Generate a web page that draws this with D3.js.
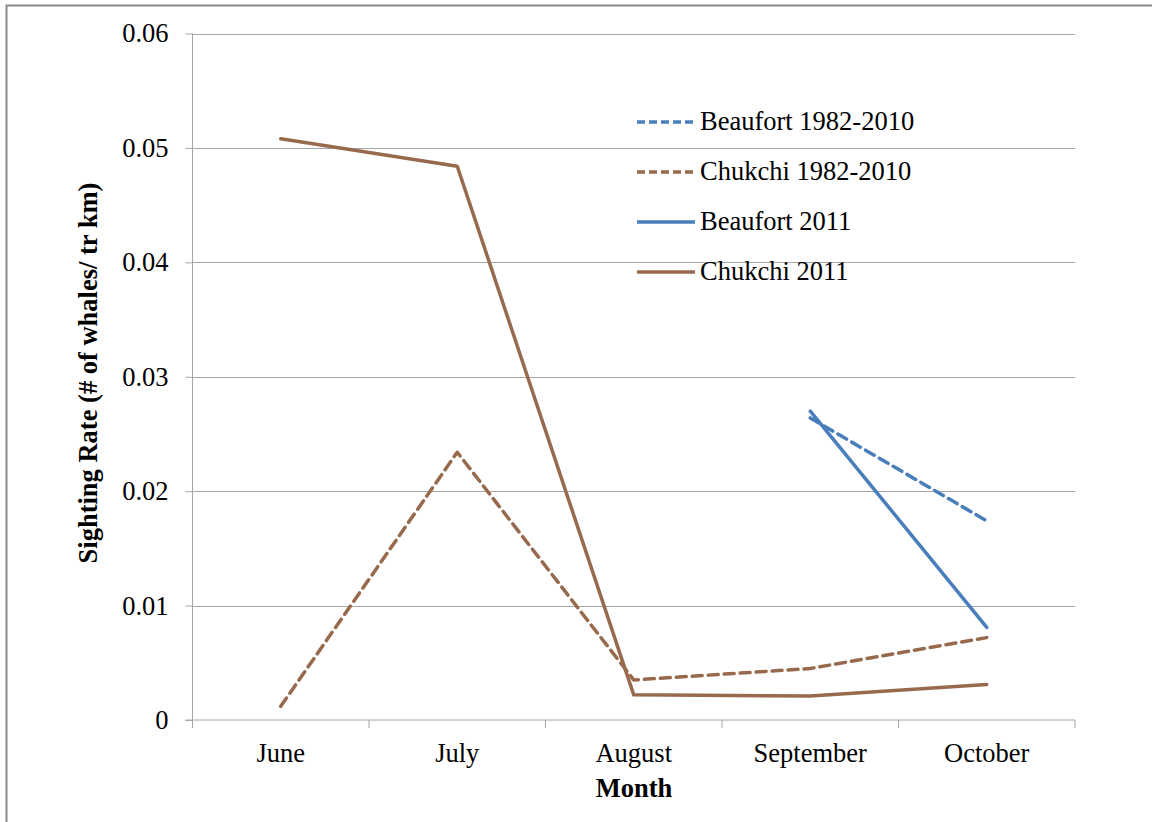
<!DOCTYPE html>
<html>
<head>
<meta charset="utf-8">
<script src="https://cdn.jsdelivr.net/npm/d3@7"></script>
<style>
  html, body { margin: 0; padding: 0; background: #fff; }
  svg { display: block; }
  text { font-family: "Liberation Serif", "Times New Roman", serif; fill: #000; }
</style>
</head>
<body>
<svg id="chart" width="1152" height="822"></svg>
<script>
// Sighting rates of whales per track km, by month
const months = ["June", "July", "August", "September", "October"];
const yTicks = [0, 0.01, 0.02, 0.03, 0.04, 0.05, 0.06];

const beaufortHist = [null, null, null, 0.0264, 0.0174];
const chukchiHist  = [0.0012, 0.0234, 0.0035, 0.0045, 0.0072];
const beaufort2011 = [null, null, null, 0.0270, 0.0081];
const chukchi2011  = [0.0508, 0.0484, 0.0022, 0.0021, 0.0031];

const blue = "#4a7ebb";
const brown = "#986a4d";

const series = [
  { name: "Beaufort 1982-2010", values: beaufortHist, color: blue,  dash: "10,6" },
  { name: "Chukchi 1982-2010",  values: chukchiHist,  color: brown, dash: "10,6" },
  { name: "Beaufort 2011",      values: beaufort2011, color: blue,  dash: null },
  { name: "Chukchi 2011",       values: chukchi2011,  color: brown, dash: null }
];

const svg = d3.select("#chart");
const plotLeft = 192.5, plotRight = 1075, plotTop = 33.5, plotBottom = 720;
const fontSize = 26.5;

// outer chart frame
svg.append("rect")
  .attr("x", 6.5).attr("y", 5.5)
  .attr("width", 1160).attr("height", 830)
  .attr("fill", "none").attr("stroke", "#8a8a8a").attr("stroke-width", 2);

const x = d3.scaleBand().domain(months).range([plotLeft, plotRight]);
const y = d3.scaleLinear().domain([0, 0.06]).range([plotBottom, plotTop]);

// horizontal gridlines
svg.append("g").selectAll("line").data(yTicks.filter(d => d > 0)).join("line")
  .attr("x1", plotLeft).attr("x2", plotRight)
  .attr("y1", d => Math.round(y(d)) + 0.5).attr("y2", d => Math.round(y(d)) + 0.5)
  .attr("stroke", "#a6a6a6").attr("stroke-width", 1);

// y axis
const yAxis = svg.append("g")
  .attr("transform", `translate(${plotLeft},0)`)
  .call(d3.axisLeft(y).tickValues(yTicks).tickFormat(d => d === 0 ? "0" : d3.format(".2f")(d)).tickSize(7).tickPadding(17));
yAxis.select(".domain").attr("stroke", "#a6a6a6").attr("d", `M0,${plotTop}V${plotBottom}`);
yAxis.selectAll(".tick line").attr("stroke", "#a6a6a6");
yAxis.selectAll(".tick text").attr("font-size", fontSize).attr("font-family", "Liberation Serif").attr("fill", "#000");

// x axis with boundary ticks between categories
const xg = svg.append("g").attr("transform", `translate(0,${plotBottom})`);
xg.append("line").attr("x1", plotLeft - 7).attr("x2", plotRight).attr("y1", 0).attr("y2", 0)
  .attr("stroke", "#a6a6a6");
const bounds = months.map(m => x(m)).concat([plotRight]);
xg.selectAll("line.b").data(bounds).join("line").attr("class", "b")
  .attr("x1", d => d).attr("x2", d => d).attr("y1", 0).attr("y2", 8)
  .attr("stroke", "#a6a6a6");
xg.selectAll("text").data(months).join("text")
  .attr("x", d => x(d) + x.bandwidth() / 2).attr("y", 42)
  .attr("text-anchor", "middle").attr("font-size", fontSize).text(d => d);

// axis titles
svg.append("text")
  .attr("x", 634).attr("y", 797).attr("text-anchor", "middle")
  .attr("font-size", fontSize).attr("font-weight", "bold").text("Month");
svg.append("text")
  .attr("transform", `translate(97,373) rotate(-90)`)
  .attr("text-anchor", "middle").attr("font-size", fontSize).attr("font-weight", "bold")
  .text("Sighting Rate (# of whales/ tr km)");

// data lines
const line = d3.line()
  .defined(d => d.v !== null)
  .x(d => x(d.m) + x.bandwidth() / 2)
  .y(d => y(d.v));

svg.append("g").selectAll("path").data(series).join("path")
  .attr("d", s => line(s.values.map((v, i) => ({ m: months[i], v }))))
  .attr("fill", "none")
  .attr("stroke", s => s.color)
  .attr("stroke-width", 3.5)
  .attr("stroke-linecap", "round")
  .attr("stroke-linejoin", "round")
  .attr("stroke-dasharray", s => s.dash);

// legend
const lg = svg.append("g");
const rows = lg.selectAll("g").data(series).join("g")
  .attr("transform", (d, i) => `translate(0,${122 + i * 50})`);
rows.append("line")
  .attr("x1", 637).attr("x2", 695).attr("y1", 0).attr("y2", 0)
  .attr("stroke", d => d.color).attr("stroke-width", 3.5)
  .attr("stroke-dasharray", d => d.dash ? "8,4" : null);
rows.append("text")
  .attr("x", 700).attr("y", 7.5).attr("font-size", fontSize)
  .text(d => d.name);
</script>
</body>
</html>
